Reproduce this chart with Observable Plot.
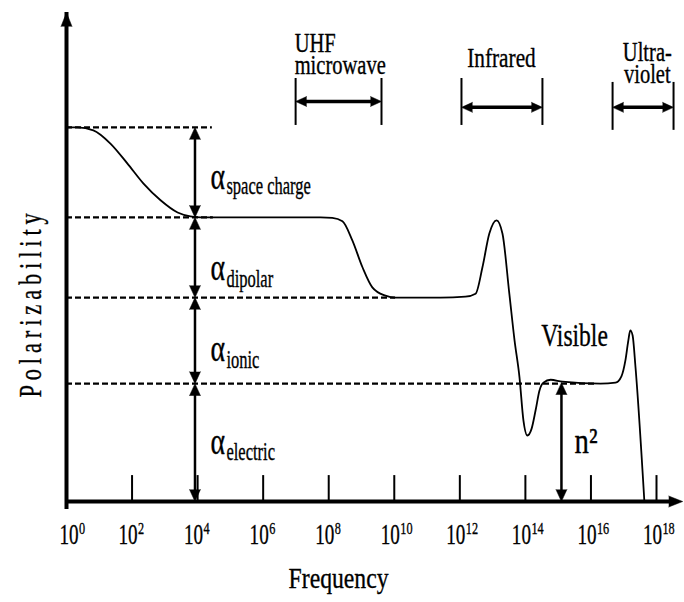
<!DOCTYPE html>
<html>
<head>
<meta charset="utf-8">
<script src="https://cdn.jsdelivr.net/npm/d3@7"></script>
<script src="https://cdn.jsdelivr.net/npm/@observablehq/plot@0.6"></script>
<style>
html, body { margin: 0; padding: 0; background: #fff; overflow: hidden; }
</style>
</head>
<body>
<div id="chart"></div>
<script>
// ---------- data (x = log10 of frequency, y = relative polarizability) ----------
const tickExponents = [2, 4, 6, 8, 10, 12, 14, 16, 18];
const tickLabelExponents = [0.2, 2, 4, 6, 8, 10, 12, 14, 16, 18];
const tickBase = ["10", "10", "10", "10", "10", "10", "10", "10", "10", "10"];
const tickPowers = ["0", "2", "4", "6", "8", "10", "12", "14", "16", "18"];

const curveLogF = [0, 0.34, 0.82, 1.34, 1.86, 2.35, 2.87, 3.39, 3.78, 4.09, 7.75, 8.11, 8.42, 8.72, 9.03, 9.33, 9.73, 10.04,
  11.41, 12.17, 12.48, 12.69, 12.90, 13.12, 13.30, 13.51, 13.67, 13.82, 13.94, 14.06, 14.19, 14.31, 14.43, 14.55, 14.77,
  15.13, 16.29, 16.75, 16.93, 17.05, 17.14, 17.20, 17.27, 17.36, 17.63];
const curvePol = [76.5, 76.5, 75.9, 73.2, 69.1, 65.0, 61.6, 59.1, 58.3, 58.1, 58.1, 58.0, 57.3, 53.4, 47.9, 43.8, 42.1, 41.7,
  41.7, 41.9, 42.5, 47.9, 54.8, 57.5, 54.8, 42.5, 32.9, 25.4, 16.6, 13.5, 14.9, 18.6, 22.7, 24.3, 24.9,
  24.5, 24.1, 24.3, 25.6, 28.8, 32.9, 35.0, 34.0, 27.4, 0];

const levelNames = ["space charge", "dipolar", "ionic", "electric"];
const levelTop = [76.5, 58.1, 41.7, 24.1];
const levelBottom = [58.1, 41.7, 24.1, 0];
const levelDashEnd = [4.45, 4.48, 10.04, 16.2];
const levelArrowLogF = 3.92;

const bandNames = ["UHF\nmicrowave", "Infrared", "Ultra-\nviolet"];
const bandLow = [6.99, 12.05, 16.66];
const bandHigh = [9.61, 14.52, 18.52];

const n2LogF = 15.1;
const n2Value = 24.3;

// ---------- placement of annotations (data units) ----------
const bandArrowY = [81.8, 80.6, 80.6];
const bandBarTop = [86.5, 86.5, 85.7];
const bandBarBottom = [76.9, 76.9, 75.9];
const alphaBase = [64.0, 45.2, 28.8, 9.8];
const subBase = [62.8, 43.8, 27.4, 8.4];

const serif = '"Liberation Serif", "Times New Roman", Times, "DejaVu Serif", serif';
const idx = (n) => d3.range(n);
const ink = {fill: "black", stroke: "black", strokeWidth: 0.35, fontFamily: serif};

const curve = curveLogF.map((x, i) => ({x, y: curvePol[i]}));

const levelHeads = [];
levelTop.forEach((t, i) => {
  levelHeads.push({x: levelArrowLogF, y: t, r: 0});
  levelHeads.push({x: levelArrowLogF, y: levelBottom[i], r: 180});
});
levelHeads.push({x: n2LogF, y: n2Value, r: 0});
levelHeads.push({x: n2LogF, y: 0, r: 180});

const bandHeads = [];
bandLow.forEach((lo, i) => {
  bandHeads.push({x: lo, y: bandArrowY[i], r: 270});
  bandHeads.push({x: bandHigh[i], y: bandArrowY[i], r: 90});
});
const bandBars = [];
bandLow.forEach((lo, i) => {
  bandBars.push({x: lo, y1: bandBarBottom[i], y2: bandBarTop[i]});
  bandBars.push({x: bandHigh[i], y1: bandBarBottom[i], y2: bandBarTop[i]});
});

const xTip = 18.8, yTip = 100;

const txt = (text, x, y, o = {}) =>
  Plot.text([text], {x, y, text: (d) => d, lineAnchor: "bottom", ...ink, ...o});

// horizontal squeeze and letter spacing for each text mark, in mark order
const textSqueeze = [
  [0.66, 0],  // tick "10"
  [0.72, 0],  // tick powers
  [0.79, 0],  // Frequency
  [0.7, 7],   // Polarizability
  [0.75, 0],  // alpha
  [0.66, 0],  // subscripts
  [0.76, 0],  // UHF microwave
  [0.76, 0],  // Infrared
  [0.76, 0],  // Ultra-violet
  [0.76, 0],  // Visible
  [0.8, 0]    // n2
];

const chart = Plot.plot({
  width: 684,
  height: 602,
  margin: 0,
  x: {type: "linear", domain: [0, 18], range: [66, 656], axis: null},
  y: {type: "linear", domain: [0, 100], range: [501, 12], axis: null},
  style: {background: "white", fontFamily: serif, overflow: "visible"},
  marks: [
    // dashed level lines
    Plot.ruleY(idx(4), {x1: 0, x2: (i) => levelDashEnd[i], y: (i) => levelTop[i], stroke: "black", strokeWidth: 2.3, strokeDasharray: "6,3"}),
    // polarizability curve
    Plot.line(curve, {x: "x", y: "y", curve: "monotone-x", stroke: "black", strokeWidth: 1.8}),
    // axes
    Plot.ruleX([0], {y1: 0, y2: yTip, stroke: "black", strokeWidth: 4, insetTop: 8}),
    Plot.ruleY([0], {x1: 0, x2: xTip, stroke: "black", strokeWidth: 4, insetRight: 8}),
    Plot.vector([{x: 0, y: yTip, r: 0}, {x: xTip, y: 0, r: 90}], {x: "x", y: "y", rotate: "r", shape: "spike", anchor: "end", length: 14, r: 5.5, fill: "black", stroke: "black", strokeWidth: 0.5}),
    // ticks
    Plot.ruleX(tickExponents, {y1: 0, y2: 5.3, stroke: "black", strokeWidth: 2}),
    // level double arrows
    Plot.ruleX(idx(4), {x: levelArrowLogF, y1: (i) => levelTop[i], y2: (i) => levelBottom[i], stroke: "black", strokeWidth: 2.5, insetTop: 5, insetBottom: 5}),
    Plot.ruleX([n2LogF], {y1: n2Value, y2: 0, stroke: "black", strokeWidth: 2.5, insetTop: 5, insetBottom: 5}),
    Plot.vector(levelHeads, {x: "x", y: "y", rotate: "r", shape: "spike", anchor: "end", length: 12, r: 5.5, fill: "black", stroke: "black", strokeWidth: 0.5}),
    // frequency bands
    Plot.ruleX(bandBars, {x: "x", y1: "y1", y2: "y2", stroke: "black", strokeWidth: 2}),
    Plot.ruleY(idx(3), {x1: (i) => bandLow[i], x2: (i) => bandHigh[i], y: (i) => bandArrowY[i], stroke: "black", strokeWidth: 3.5, insetLeft: 5, insetRight: 5}),
    Plot.vector(bandHeads, {x: "x", y: "y", rotate: "r", shape: "spike", anchor: "end", length: 11, r: 5, fill: "black", stroke: "black", strokeWidth: 0.5}),
    // tick labels: 10 with superscript power
    Plot.text(tickBase, {x: (d, i) => tickLabelExponents[i], y: -8.6, text: (d) => d, dx: -4, lineAnchor: "bottom", textAnchor: "middle", fontSize: 29, ...ink}),
    Plot.text(tickPowers, {x: (d, i) => tickLabelExponents[i], y: -6.7, text: (d) => d, dx: 6, lineAnchor: "bottom", textAnchor: "start", fontSize: 17, ...ink}),
    txt("Frequency", 8.3, -17.6, {textAnchor: "middle", fontSize: 30}),
    txt("Polarizability", -0.79, 40.6, {textAnchor: "middle", fontSize: 32, rotate: -90}),
    Plot.text(levelNames, {x: 4.39, y: (d, i) => alphaBase[i], text: () => "α", lineAnchor: "bottom", textAnchor: "start", fontSize: 37, ...ink}),
    Plot.text(levelNames, {x: 4.88, y: (d, i) => subBase[i], text: (d) => d, lineAnchor: "bottom", textAnchor: "start", fontSize: 25, ...ink}),
    txt(bandNames[0], 6.96, 87.5, {textAnchor: "start", fontSize: 27, lineHeight: 0.8}),
    txt(bandNames[1], 13.27, 88.8, {textAnchor: "middle", fontSize: 28}),
    txt(bandNames[2], 17.72, 85.5, {textAnchor: "middle", fontSize: 27, lineHeight: 0.82}),
    txt("Visible", 15.5, 31.9, {textAnchor: "middle", fontSize: 31}),
    txt("n²", 15.5, 10.0, {textAnchor: "start", fontSize: 36})
  ]
});

// condensed serif lettering, as in the original figure
chart.querySelectorAll('g[aria-label="text"]').forEach((g, k) => {
  const [sx, ls] = textSqueeze[k] || [1, 0];
  g.querySelectorAll("text").forEach((t) => {
    t.setAttribute("transform", (t.getAttribute("transform") || "") + ` scale(${sx},1)`);
    if (ls) t.setAttribute("letter-spacing", ls);
  });
});
document.getElementById("chart").appendChild(chart);
</script>
</body>
</html>
